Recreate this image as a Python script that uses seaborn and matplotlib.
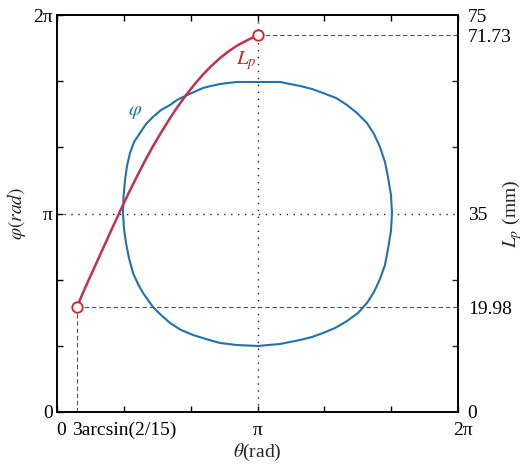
import numpy as np
import pandas as pd
import matplotlib
matplotlib.use("Agg")
import matplotlib.pyplot as plt
import matplotlib.transforms as mtransforms
import seaborn as sns

# ---- data ----
# phi(theta) closed loop (rad)
loop_theta = [3.149, 2.820, 2.679, 2.554, 2.413, 2.288, 2.147, 2.006, 1.880, 1.771,
              1.630, 1.504, 1.395, 1.301, 1.207, 1.144, 1.097, 1.066, 1.042, 1.034,
              1.050, 1.081, 1.128, 1.191, 1.269, 1.348, 1.426, 1.504, 1.630, 1.771,
              1.943, 2.131, 2.335, 2.554, 2.820, 3.149,
              3.494, 3.651, 3.808, 3.996, 4.168, 4.356, 4.544, 4.716, 4.857, 4.967,
              5.061, 5.139, 5.186, 5.233, 5.249,
              5.233, 5.186, 5.139, 5.061, 4.967, 4.857, 4.701, 4.544, 4.372, 4.168,
              3.996, 3.808, 3.651, 3.494, 3.149]
loop_phi = [5.223, 5.223, 5.207, 5.191, 5.160, 5.128, 5.065, 5.001, 4.938, 4.859,
            4.780, 4.669, 4.558, 4.416, 4.273, 4.099, 3.893, 3.672, 3.403, 3.150,
            2.896, 2.675, 2.437, 2.200, 2.026, 1.883, 1.773, 1.662, 1.535, 1.409,
            1.298, 1.219, 1.155, 1.092, 1.060, 1.045,
            1.076, 1.108, 1.140, 1.187, 1.250, 1.329, 1.440, 1.567, 1.725, 1.899,
            2.105, 2.327, 2.580, 2.865, 3.150,
            3.434, 3.719, 3.957, 4.194, 4.400, 4.574, 4.732, 4.859, 4.970, 5.049,
            5.112, 5.160, 5.191, 5.223, 5.223]

# Lp(theta) in mm
lp_theta = [0.313, 0.407, 0.517, 0.674, 0.830, 0.924, 1.034, 1.144, 1.254, 1.379,
            1.504, 1.630, 1.771, 1.880, 2.006, 2.147, 2.288, 2.413, 2.554, 2.679,
            2.820, 2.945, 3.024, 3.1416]
lp_mm = [19.98, 22.72, 25.69, 29.88, 34.07, 36.56, 39.42, 42.22, 44.90, 47.84,
         50.60, 53.21, 55.95, 57.95, 60.08, 62.29, 64.27, 65.83, 67.39, 68.60,
         69.76, 70.57, 71.05, 71.73]

x_tick_labels = ['0', '3arcsin(2/15)', '', 'π', '', '', '2π']
y_tick_labels = ['0', '', '', 'π', '', '', '2π']
r_tick_values = [0, 19.98, 37.8, 71.73, 75.6]
r_tick_labels = ['0', '19.98', '35', '71.73', '75']

blue = '#1f72b0'
red = '#c3304f'
gray = '#555555'

sns.set_theme(style='white')
plt.rcParams['font.family'] = ['Liberation Serif', 'DejaVu Serif']
plt.rcParams['mathtext.fontset'] = 'stix'
plt.rcParams['font.size'] = 14

fig = plt.figure(figsize=(5.25, 4.72), dpi=100)
ax = fig.add_axes([57/525, 1-412/472, (458-57)/525, (412-15)/472])
ax2 = ax.twinx()

TWO_PI = 2*np.pi
ax.set_xlim(0, TWO_PI)
ax.set_ylim(0, TWO_PI)
ax2.set_ylim(0, 75.6)

# reference lines
dot = (0, (1, 4))
dash = (0, (4, 2.5))
ax.plot([np.pi, np.pi], [0, TWO_PI], ls=dot, color='#222222', lw=1.0, zorder=1)
ax.plot([0, TWO_PI], [np.pi, np.pi], ls=dot, color='#222222', lw=1.0, zorder=1)
ax2.plot([lp_theta[0], lp_theta[0]], [0, lp_mm[0]], ls=dash, color=gray, lw=0.8, zorder=1)
ax2.plot([lp_theta[0], TWO_PI], [lp_mm[0], lp_mm[0]], ls=dash, color=gray, lw=0.8, zorder=1)
ax2.plot([lp_theta[-1], TWO_PI], [lp_mm[-1], lp_mm[-1]], ls=dash, color=gray, lw=0.8, zorder=1)

df_loop = pd.DataFrame({'theta': loop_theta, 'phi': loop_phi})
sns.lineplot(data=df_loop, x='theta', y='phi', sort=False, estimator=None,
             color=blue, lw=1.5, ax=ax)

df_lp = pd.DataFrame({'theta': lp_theta, 'Lp': lp_mm})
sns.lineplot(data=df_lp, x='theta', y='Lp', sort=False, estimator=None,
             color=red, lw=1.8, ax=ax2)
ax2.plot([lp_theta[0], lp_theta[-1]], [lp_mm[0], lp_mm[-1]], 'o', ms=7.5,
         mfc='white', mec='#d0202a', mew=1.3, zorder=5, ls='none')

ax.text(1.22, 4.75, r'$\varphi$', color=blue, fontsize=15, ha='center', va='center')
ax2.text(2.96, 67.0, r'$L_p$', color='#d0202a', fontsize=15, ha='center', va='center')

# ticks
ax.set_xticks([k*np.pi/3 for k in range(7)])
ax.set_xticklabels(x_tick_labels)
ax.set_yticks([k*np.pi/3 for k in range(7)])
ax.set_yticklabels(y_tick_labels)
ax.tick_params(axis='x', direction='in', length=4, width=1, top=True, bottom=True,
               pad=7, labelsize=14, colors='black')
ax.tick_params(axis='y', direction='in', length=4, width=1, left=True, right=False,
               pad=3, labelsize=14, colors='black')

# small horizontal offsets of the end labels as in the reference
xl = ax.get_xticklabels()
xl[0].set_transform(xl[0].get_transform() + mtransforms.ScaledTranslation(4/100, 0, fig.dpi_scale_trans))
xl[-1].set_transform(xl[-1].get_transform() + mtransforms.ScaledTranslation(5/100, 0, fig.dpi_scale_trans))

ax2.set_yticks(r_tick_values)
ax2.set_yticklabels(r_tick_labels)
ax2.set_yticks([k*75.6/6 for k in range(7)], minor=True)
ax2.tick_params(axis='y', which='major', length=0, pad=7, labelsize=14, colors='black')
ax2.tick_params(axis='y', which='minor', direction='in', length=4, width=1, right=True)

ax.set_xlabel(r'$\theta$(rad)', fontsize=14, labelpad=2)
ax.set_ylabel(r'$\varphi(rad)$', fontsize=14, labelpad=4)
ax2.set_ylabel(r'$L_p$ (mm)', fontsize=14)
ax2.yaxis.set_label_coords(1.105, 0.5)

for a in (ax, ax2):
    for s in a.spines.values():
        s.set_color('black')
        s.set_linewidth(1.2)
    a.grid(False)

fig.savefig('out.png', dpi=100)
